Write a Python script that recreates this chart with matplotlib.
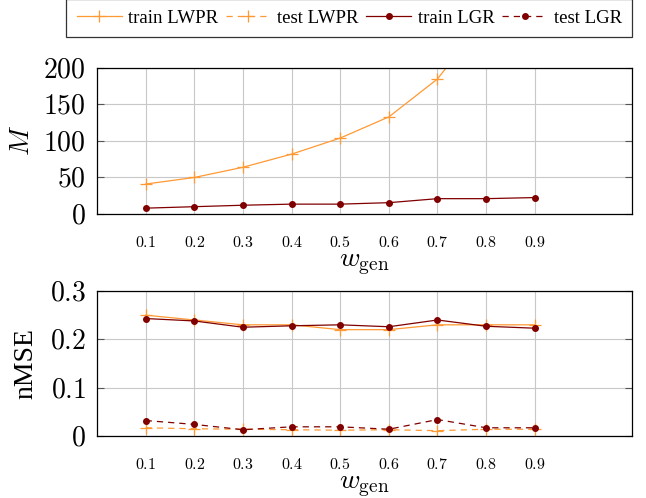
import matplotlib
matplotlib.use("Agg")
import matplotlib.pyplot as plt

plt.rcParams['mathtext.fontset'] = 'cm'
plt.rcParams['font.family'] = ['Liberation Serif', 'DejaVu Serif']

w_gen = [0.1, 0.2, 0.3, 0.4, 0.5, 0.6, 0.7, 0.8, 0.9]

# number of local models M
m_lwpr = [41, 50, 64, 82, 104, 133, 185, 270, 400]
m_lgr = [8, 10, 12, 13.5, 13.5, 15.5, 21, 21, 22.5]

# nMSE
train_lwpr = [0.25, 0.24, 0.23, 0.23, 0.22, 0.22, 0.23, 0.23, 0.23]
test_lwpr = [0.017, 0.015, 0.014, 0.013, 0.012, 0.013, 0.011, 0.014, 0.014]
train_lgr = [0.243, 0.238, 0.225, 0.228, 0.230, 0.226, 0.240, 0.227, 0.223]
test_lgr = [0.032, 0.024, 0.013, 0.019, 0.019, 0.014, 0.034, 0.017, 0.017]

xticks = [0.1, 0.2, 0.3, 0.4, 0.5, 0.6, 0.7, 0.8, 0.9]
xlabels = ['$0.1$', '$0.2$', '$0.3$', '$0.4$', '$0.5$', '$0.6$', '$0.7$', '$0.8$', '$0.9$']

orange = '#ff9933'
dred = '#800000'

fig = plt.figure(figsize=(6.46, 4.98), dpi=100)
ax1 = fig.add_axes([0.1502, 0.5703, 0.8282, 0.2932])
ax2 = fig.add_axes([0.1502, 0.1245, 0.8282, 0.2912])

l1, = ax1.plot(w_gen, m_lwpr, '-', color=orange, lw=0.9, marker='+', ms=8, mew=0.9)
l3, = ax1.plot(w_gen, m_lgr, '-', color=dred, lw=0.9, marker='o', ms=4)

ax2.plot(w_gen, train_lwpr, '-', color=orange, lw=0.9, marker='+', ms=8, mew=0.9)
l2, = ax2.plot(w_gen, test_lwpr, '--', color=orange, lw=0.9, marker='+', ms=8, mew=0.9, dashes=(5, 4))
ax2.plot(w_gen, train_lgr, '-', color=dred, lw=0.9, marker='o', ms=4)
l4, = ax2.plot(w_gen, test_lgr, '--', color=dred, lw=0.9, marker='o', ms=4, dashes=(5, 4))

ax1.set_ylim(0, 200)
ax1.set_yticks([0, 50, 100, 150, 200])
ax1.set_yticklabels(['$0$', '$50$', '$100$', '$150$', '$200$'])
ax1.set_ylabel('$M$', fontsize=20, labelpad=6)

ax2.set_ylim(0, 0.3)
ax2.set_yticks([0, 0.1, 0.2, 0.3])
ax2.set_yticklabels(['$0$', '$0.1$', '$0.2$', '$0.3$'])
ax2.set_ylabel('nMSE', fontsize=20, labelpad=8)

for ax in (ax1, ax2):
    ax.set_xlim(0, 1.1)
    ax.set_xticks(xticks)
    ax.set_xticklabels(xlabels)
    ax.set_xlabel(r'$w_{\mathrm{gen}}$', fontsize=20, labelpad=1)
    ax.grid(True, color='#c8c8c8', lw=0.8)
    ax.set_axisbelow(True)
    ax.tick_params(axis='y', which='major', direction='in', left=True, right=True,
                   length=5, labelsize=20, color='#555555', pad=8)
    ax.tick_params(axis='x', length=0, labelsize=11.5, pad=15)
    for s in ax.spines.values():
        s.set_linewidth(0.9)

leg = fig.legend([l1, l2, l3, l4], ['train LWPR', 'test LWPR', 'train LGR', 'test LGR'],
                 ncol=4, loc='upper center', bbox_to_anchor=(0.5405, 1.02),
                 fontsize=13.5, frameon=True, fancybox=False, handlelength=2.4,
                 columnspacing=0.4, handletextpad=0.35, borderpad=0.55)
leg.get_frame().set_edgecolor('black')
leg.get_frame().set_linewidth(0.9)

fig.savefig('out.png', dpi=100)
